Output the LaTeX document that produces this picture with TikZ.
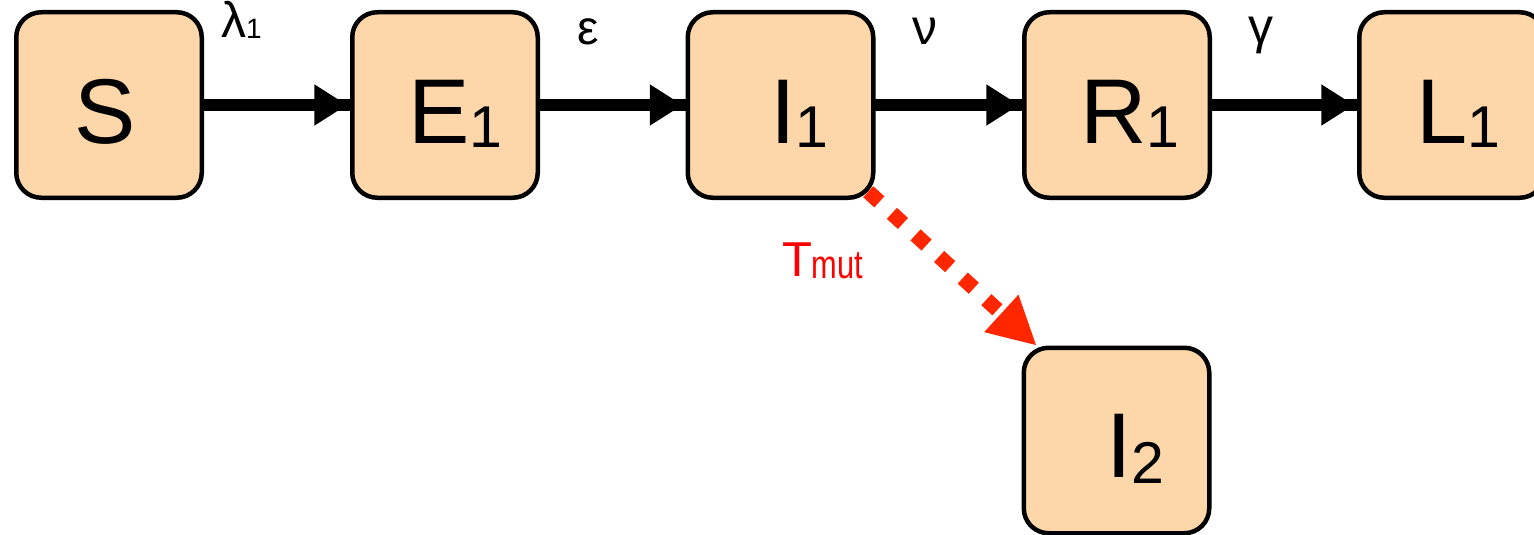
\documentclass[tikz,border=0pt]{standalone}
\usepackage{fontspec}
\setmainfont{Liberation Sans}
\usepackage{graphicx}
\usetikzlibrary{arrows.meta,calc}
\definecolor{boxfill}{RGB}{253,214,169}
\definecolor{mutred}{RGB}{255,38,0}
\newcommand{\bigtxt}{\fontsize{92}{92}\selectfont}
\newcommand{\subtxt}[2][-4pt]{\raisebox{#1}{\fontsize{59}{59}\selectfont #2}}
\begin{document}
\begin{tikzpicture}[x=1pt,y=-1pt,
  box/.style={draw=black, line width=4.5pt, fill=boxfill, rounded corners=25pt,
    minimum width=185.5pt, minimum height=185.5pt, inner sep=0pt, outer sep=0pt},
  boxtext/.style={anchor=base west, inner sep=0pt, outer sep=0pt},
  rate/.style={anchor=base west, inner sep=0pt, outer sep=0pt},
  flow/.style={line width=12.5pt,
    postaction={draw, line width=12.5pt, shorten >=5pt, -{Triangle[length=33pt,width=39pt]}}},
  mutflow/.style={draw=mutred, line width=15pt, dash pattern=on 15pt off 17pt,
    -{Triangle[length=48pt,width=47pt]}}
]
\useasboundingbox (0,0) rectangle (1534,535);
\clip (0,0) rectangle (1534,535);

% compartments
\node[box] (S)  at (109,105) {};
\node[box] (E1) at (445,105) {};
\node[box] (I1) at (780.5,105) {};
\node[box] (R1) at (1117,105) {};
\node[box] (L1) at (1452,105) {};
\node[box] (I2) at (1116.5,440.5) {};

% compartment labels
\node[boxtext] (St)  at (74,143)   {\bigtxt S};
\node[boxtext] (E1t) at (408,143)  {\bigtxt E\subtxt{1}};
\node[boxtext] (I1t) at (770,143)  {\bigtxt I\subtxt{1}};
\node[boxtext] (R1t) at (1080,143) {\bigtxt R\subtxt{1}};
\node[boxtext] (L1t) at (1416,143) {\bigtxt L\subtxt{1}};
\node[boxtext] (I2t) at (1106,477) {\bigtxt I\subtxt[-6pt]{2}};

% transitions
\draw[flow] (S.east)  -- (E1.west);
\draw[flow] (E1.east) -- (I1.west);
\draw[flow] (I1.east) -- (R1.west);
\draw[flow] (R1.east) -- (L1.west);

% rates
\node[rate] (lam) at (221,38) {\fontsize{50}{50}\selectfont λ\raisebox{-1pt}{\fontsize{28}{28}\selectfont 1}};
\node[rate] (eps) at (577,45) {\fontsize{48}{48}\selectfont ε};
\node[rate] (nu)  at (912,45) {\fontsize{50}{50}\selectfont ν};
\node[rate] (gam) at (1248,44) {\fontsize{50}{50}\selectfont γ};

% mutation
\draw[mutflow] ($(I1.south east)+(-5,-6)$) -- ($(I2.north west)+(13,-2)$);
\node[rate, text=red] (tmut) at (782,276) {\fontsize{49}{49}\selectfont T\raisebox{-2pt}{\scalebox{0.77}[1]{\fontsize{40}{40}\selectfont mut}}};
\end{tikzpicture}
\end{document}
